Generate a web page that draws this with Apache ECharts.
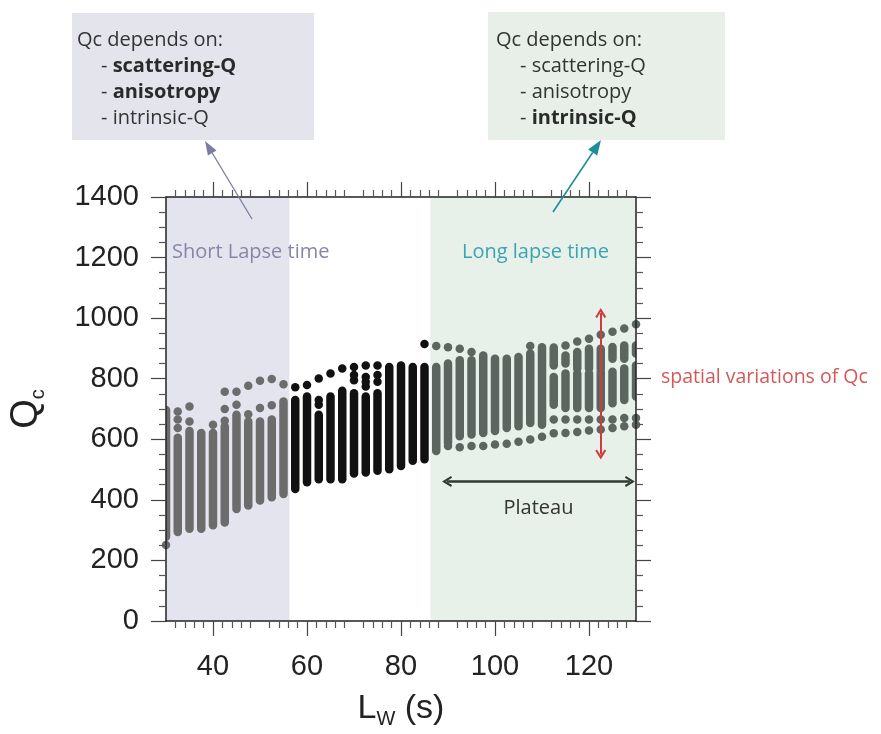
<!DOCTYPE html>
<html>
<head>
<meta charset="utf-8">
<script src="https://cdn.jsdelivr.net/npm/echarts@6/dist/echarts.min.js"></script>
<style>html,body{margin:0;padding:0;background:#fff;}#c{width:881px;height:734px;}</style>
</head>
<body>
<div id="c"></div>
<script>
// ---- data ----
const xMajorTicks = [40, 60, 80, 100, 120];
const shortLapseEnd = 56.25;
const longLapseStart = 86.25;

// main dense stack of each lapse-time column
const stackX    = [30, 32.5, 35, 37.5, 40, 42.5, 45, 47.5, 50, 52.5, 55, 57.5, 60, 62.5, 65, 67.5, 70, 72.5, 75, 77.5, 80, 82.5, 85, 87.5, 90, 92.5, 95, 97.5, 100, 102.5, 105, 107.5, 110, 112.5, 115, 117.5, 120, 122.5, 125, 127.5, 130];
const stackLow  = [278, 294, 305, 305, 316, 325, 370, 381, 398, 409, 419, 436, 458, 468, 468, 468, 487, 490, 496, 501, 512, 529, 534, 561, 588, 610, 616, 621, 627, 637, 643, 654, 648, 714, 703, 703, 703, 703, 719, 730, 741];
const stackHigh = [697, 605, 627, 621, 621, 643, 681, 659, 659, 665, 725, 730, 741, 681, 741, 760, 752, 741, 752, 839, 844, 839, 839, 839, 850, 861, 861, 877, 866, 866, 872, 883, 904, 806, 817, 817, 817, 823, 823, 834, 844];

// upper secondary stacks (long lapse times)
const upperX    = [112.5, 115, 117.5, 120, 122.5, 125, 127.5, 130];
const upperLow  = [844, 850, 834, 834, 834, 866, 866, 883];
const upperHigh = [903, 877, 888, 899, 899, 905, 910, 910];

// isolated dots
const dotX = [30, 32.5, 32.5, 32.5, 35, 35, 40, 42.5, 42.5, 42.5, 45, 45, 47.5, 47.5, 50, 50, 52.5, 52.5, 55, 57.5, 60, 62.5, 62.5, 62.5, 65, 67.5, 70, 70, 70, 72.5, 72.5, 72.5, 72.5, 75, 75, 75, 85, 87.5, 90, 90, 92.5, 92.5, 95, 95, 97.5, 100, 102.5, 105, 107.5, 107.5, 110, 112.5, 112.5, 115, 115, 115, 117.5, 117.5, 117.5, 120, 120, 120, 122.5, 122.5, 122.5, 125, 125, 125, 127.5, 127.5, 127.5, 130, 130, 130];
const dotY = [251, 637, 665, 692, 659, 708, 648, 661, 700, 757, 714, 757, 683, 777, 703, 793, 712, 799, 782, 772, 779, 714, 730, 801, 817, 834, 795, 812, 839, 774, 790, 806, 844, 790, 812, 844, 915, 908, 578, 904, 574, 899, 578, 888, 578, 583, 585, 592, 599, 908, 608, 665, 620, 910, 665, 621, 923, 665, 624, 932, 665, 629, 945, 665, 632, 955, 665, 637, 966, 670, 643, 980, 670, 648];

// annotations
const plateauFrom = 89.8, plateauTo = 128.7, plateauQ = 461;
const spreadX = 122.5, spreadLow = 550, spreadHigh = 1017;

// ---- styling helpers ----
const COL_SHORT = '#6c6c6c', COL_MID = '#111111', COL_LONG = '#5c6660';
function regionColor(x) { return x < shortLapseEnd ? COL_SHORT : (x < longLapseStart ? COL_MID : COL_LONG); }

const stackData = [];
stackX.forEach((x, i) => stackData.push([x, stackLow[i], stackHigh[i]]));
upperX.forEach((x, i) => stackData.push([x, upperLow[i], upperHigh[i]]));
const dotData = dotX.map((x, i) => [x, dotY[i]]);

const DOT = 8.5;
function renderStack(params, api) {
  const x = api.value(0), lo = api.value(1), hi = api.value(2);
  const pTop = api.coord([x, hi]);
  const pBot = api.coord([x, lo]);
  return {
    type: 'rect',
    shape: { x: pTop[0] - DOT / 2, y: pTop[1] - DOT / 2, width: DOT, height: pBot[1] - pTop[1] + DOT, r: DOT / 2 },
    style: { fill: regionColor(x) }
  };
}

function arrow(x1, y1, x2, y2, color, w, hl, hw) {
  const a = Math.atan2(y2 - y1, x2 - x1);
  const bx = x2 - hl * Math.cos(a), by = y2 - hl * Math.sin(a);
  const px = -Math.sin(a) * hw / 2, py = Math.cos(a) * hw / 2;
  return [
    { type: 'line', z: 100, shape: { x1: x1, y1: y1, x2: bx, y2: by }, style: { stroke: color, lineWidth: w } },
    { type: 'polygon', z: 100, shape: { points: [[x2, y2], [bx + px, by + py], [bx - px, by - py]] }, style: { fill: color } }
  ];
}

const FS = 20;
function boxText(x, y, text) {
  return {
    type: 'text', z: 100,
    style: {
      x: x, y: y, text: text, verticalAlign: 'middle',
      fontFamily: 'Open Sans', fontSize: FS, fill: '#333',
      rich: { b: { fontFamily: 'Open Sans', fontSize: FS, fontWeight: 'bold', fill: '#2a2a2a' } }
    }
  };
}

const chevron = 'path://M5,0 L10,9 L8.4,10 L5,4 L1.6,10 L0,9 Z';

const AXC = '#222';
const baseX = {
  type: 'value', min: 30, max: 130, interval: 10, gridIndex: 0, splitLine: { show: false }, z: 5,
  axisLine: { show: true, onZero: false, lineStyle: { color: AXC, width: 1.5 } },
  axisTick: { show: true, customValues: xMajorTicks, length: 15, lineStyle: { color: '#444', width: 1.2 } },
  minorTick: { show: true, splitNumber: 5, length: 7, lineStyle: { color: '#555', width: 1.2 } }
};
const option = {
  animation: false,
  backgroundColor: '#ffffff',
  grid: { left: 166, right: 245, top: 197, bottom: 109 },
  xAxis: [
    Object.assign({}, baseX, {
      position: 'bottom',
      axisLabel: { customValues: xMajorTicks, fontFamily: 'Liberation Sans', fontSize: 29, color: '#222', margin: 31, lineHeight: 29 },
      name: 'L{w|W} (s)', nameLocation: 'middle', nameGap: 68,
      nameTextStyle: { fontFamily: 'Liberation Sans', fontSize: 34, color: '#222', lineHeight: 40,
        rich: { w: { fontFamily: 'Liberation Sans', fontSize: 20, color: '#222', lineHeight: 40, verticalAlign: 'bottom', padding: [12, 0, 0, 0] } } }
    }),
    Object.assign({}, baseX, {
      position: 'top',
      axisLabel: { show: false }
    })
  ],
  yAxis: [
    {
      type: 'value', min: 0, max: 1400, interval: 200, position: 'left', z: 5,
      splitLine: { show: false },
      axisLine: { show: true, onZero: false, lineStyle: { color: AXC, width: 1.5 } },
      axisTick: { show: true, length: 15, lineStyle: { color: '#444', width: 1.2 } },
      minorTick: { show: true, splitNumber: 4, length: 7, lineStyle: { color: '#555', width: 1.2 } },
      axisLabel: { fontFamily: 'Liberation Sans', fontSize: 29, color: '#222', margin: 27, formatter: (v) => String(v) },
      name: '{q|Q}{c|c}', nameLocation: 'middle', nameGap: 118, nameRotate: 90,
      nameTextStyle: { rich: {
        q: { fontFamily: 'Liberation Sans', fontSize: 38, color: '#222', lineHeight: 40, verticalAlign: 'top' },
        c: { fontFamily: 'Liberation Sans', fontSize: 20, color: '#222', lineHeight: 20, verticalAlign: 'bottom' }
      } }
    },
    {
      type: 'value', min: 0, max: 1400, interval: 200, position: 'right', z: 5,
      splitLine: { show: false },
      axisLine: { show: true, onZero: false, lineStyle: { color: AXC, width: 1.5 } },
      axisTick: { show: true, length: 15, lineStyle: { color: '#444', width: 1.2 } },
      minorTick: { show: true, splitNumber: 4, length: 7, lineStyle: { color: '#555', width: 1.2 } },
      axisLabel: { show: false }
    }
  ],
  series: [
    {
      type: 'scatter', data: [], z: 1, silent: true,
      markArea: {
        silent: true,
        data: [
          [{ xAxis: 30, itemStyle: { color: '#e4e4ee' } }, { xAxis: shortLapseEnd }],
          [{ xAxis: longLapseStart, itemStyle: { color: '#e8f0ea' } }, { xAxis: 130 }]
        ]
      }
    },
    {
      type: 'custom', z: 3, clip: true, silent: true,
      renderItem: renderStack,
      encode: { x: 0, y: [1, 2] },
      data: stackData
    },
    {
      type: 'scatter', z: 3, clip: true, silent: true,
      symbolSize: DOT,
      itemStyle: { color: (p) => regionColor(p.value[0]), opacity: 1 },
      data: dotData
    },
    {
      type: 'scatter', data: [], z: 4, silent: true,
      markLine: {
        silent: true,
        symbol: [chevron, chevron], symbolSize: [11, 10],
        data: [
          [{ coord: [plateauFrom, plateauQ], lineStyle: { color: '#2f3a33', width: 2.5, type: 'solid' },
             label: { show: true, formatter: 'Plateau', position: 'insideMiddleBottom', distance: 17,
                      fontFamily: 'Open Sans', fontSize: 20, color: '#333' } },
           { coord: [plateauTo, plateauQ] }],
          [{ coord: [spreadX, spreadLow], lineStyle: { color: '#d23a3d', width: 2, type: 'solid' }, label: { show: false } },
           { coord: [spreadX, spreadHigh] }]
        ]
      }
    }
  ],
  graphic: [
    { type: 'rect', z: 90, shape: { x: 72, y: 13, width: 242, height: 127 }, style: { fill: '#e4e4ec' } },
    { type: 'rect', z: 90, shape: { x: 488, y: 12, width: 237, height: 128 }, style: { fill: '#e7efe8' } },
    boxText(77, 40, 'Qc depends on:'),
    boxText(101, 66, '- {b|scattering-Q}'),
    boxText(101, 92, '- {b|anisotropy}'),
    boxText(101, 118, '- intrinsic-Q'),
    boxText(496, 40, 'Qc depends on:'),
    boxText(520, 66, '- scattering-Q'),
    boxText(520, 92, '- anisotropy'),
    boxText(520, 118, '- {b|intrinsic-Q}'),
    { type: 'text', z: 100, style: { x: 172, y: 252, text: 'Short Lapse time', verticalAlign: 'middle', fontFamily: 'Open Sans', fontSize: 20, fill: '#8886a8' } },
    { type: 'text', z: 100, style: { x: 462, y: 252, text: 'Long lapse time', verticalAlign: 'middle', fontFamily: 'Open Sans', fontSize: 20, fill: '#3aa5b0' } },
    { type: 'text', z: 100, style: { x: 661, y: 377, text: 'spatial variations of Qc', verticalAlign: 'middle', fontFamily: 'Open Sans', fontSize: 19.5, fill: '#d4575a' } }
  ].concat(arrow(252, 219, 205, 141, '#7c7ca0', 1.3, 14, 10))
   .concat(arrow(553, 212, 601, 140, '#1f8d97', 1.6, 15, 11))
};

const chart = echarts.init(document.getElementById('c'), null, { renderer: 'canvas' });
chart.setOption(option);
</script>
</body>
</html>
